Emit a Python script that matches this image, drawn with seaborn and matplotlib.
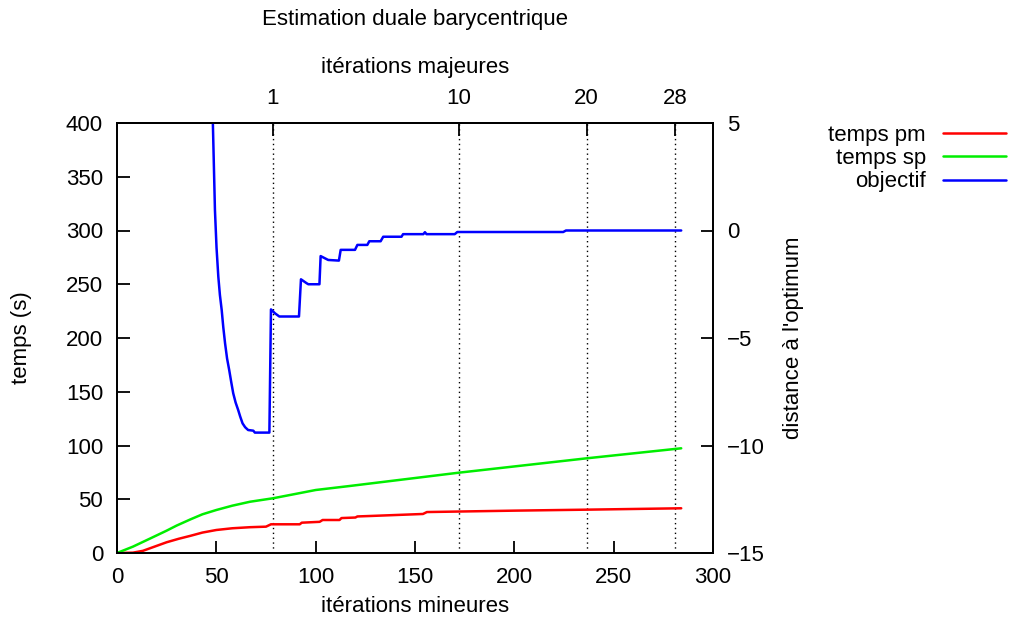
import matplotlib
matplotlib.use("Agg")
import matplotlib.pyplot as plt
import seaborn as sns
import pandas as pd
import numpy as np

# ---- data ----
x_pm = [0, 8, 13, 19, 25, 31, 37, 43, 50, 58, 67, 75, 77.5, 92, 93, 102, 103.5, 112, 113, 120, 121, 127, 154, 156, 200, 236, 284]
temps_pm = [0, 0.3, 2, 6, 10, 13.2, 16, 19, 21.4, 23, 24, 24.5, 26.7, 26.7, 28.2, 29, 30.7, 30.7, 32.5, 33, 34, 34.4, 36.3, 38.1, 39.4, 40.3, 41.6]

x_sp = [0, 8, 16.7, 25, 30, 37, 43, 50, 58, 67, 78.5, 90, 100, 117, 172, 236, 284]
temps_sp = [0, 5.9, 13.5, 20.8, 25.5, 31.3, 36, 40, 44, 47.7, 50.9, 55, 58.6, 62.3, 74.7, 88, 97.4]

x_obj = [48.2, 49.3, 50.1, 51, 51.8, 52.7, 53.5, 54.4, 55.4, 56.5, 57.5, 58.5, 59.7, 61, 62, 63.2, 64.5, 66, 68.6, 69.4, 76.7,
         77.5, 79.5, 81.7, 91.6, 92.6, 95.4, 96.3, 101.9, 102.5, 106.3, 111.7,
         112.6, 119.8, 121, 126, 127, 132.7, 134, 143.2, 144, 154.2, 155, 155.8,
         170, 171.3, 224.6, 226, 284]
objectif = [5.2, 0.95, -0.8, -2.15, -3.0, -3.7, -4.5, -5.25, -5.95, -6.5, -7.05, -7.57, -8.0, -8.35, -8.65, -8.97, -9.15, -9.28, -9.31, -9.4, -9.4,
            -3.67, -3.85, -4.0, -4.0, -2.27, -2.45, -2.5, -2.5, -1.19, -1.37, -1.4,
            -0.9, -0.9, -0.67, -0.67, -0.5, -0.5, -0.29, -0.29, -0.17, -0.17, -0.08, -0.17,
            -0.17, -0.07, -0.07, 0.0, 0.0]

major_pos = [78.5, 172, 236.4, 281]
major_labels = ["1", "10", "20", "28"]

left_ticks = [0, 50, 100, 150, 200, 250, 300, 350, 400]
right_ticks = [-15, -10, -5, 0, 5]
bottom_ticks = [0, 50, 100, 150, 200, 250, 300]

# ---- style ----
sns.set_theme(style="white")
plt.rcParams['font.family'] = ['Liberation Sans', 'DejaVu Sans']
FS = 16
plt.rcParams['font.size'] = FS
plt.rcParams['text.color'] = 'black'
plt.rcParams['axes.labelcolor'] = 'black'

W, H = 1012, 627
fig = plt.figure(figsize=(W / 100, H / 100), dpi=100)
L, R, T, B = 117, 713, 123, 553
ax = fig.add_axes([L / W, 1 - B / H, (R - L) / W, (B - T) / H])
ax2 = ax.twinx()

df_pm = pd.DataFrame({"x": x_pm, "y": temps_pm})
df_sp = pd.DataFrame({"x": x_sp, "y": temps_sp})
df_obj = pd.DataFrame({"x": x_obj, "y": objectif})

for xp in major_pos:
    ax.axvline(xp, color="black", lw=1.0, linestyle=(0, (1, 2.5)), zorder=1)

LW = 1.8
sns.lineplot(data=df_pm, x="x", y="y", ax=ax, color="#ff0000", lw=LW, label="temps pm", legend=False, estimator=None, sort=False)
sns.lineplot(data=df_sp, x="x", y="y", ax=ax, color="#00ee00", lw=LW, label="temps sp", legend=False, estimator=None, sort=False)
sns.lineplot(data=df_obj, x="x", y="y", ax=ax2, color="#0000ff", lw=LW, label="objectif", legend=False, estimator=None, sort=False)

ax.set_xlim(0, 300)
ax.set_ylim(0, 400)
ax2.set_ylim(-15, 5)

ax.set_xticks(bottom_ticks)
ax.set_yticks(left_ticks)
ax2.set_yticks(right_ticks)

for a in (ax, ax2):
    for s in a.spines.values():
        s.set_color("black")
        s.set_linewidth(1.3)

ax.tick_params(axis="x", which="both", direction="in", length=9, width=1.3, bottom=True, top=False,
               labelsize=FS, pad=10, colors="black")
ax.tick_params(axis="y", which="both", direction="in", length=9, width=1.3, left=True, right=False,
               labelsize=FS, pad=10, colors="black")
ax2.tick_params(axis="y", direction="in", length=9, width=1.3, right=True, left=False,
                labelsize=FS, pad=10, colors="black")

secax = ax.secondary_xaxis("top")
secax.set_xticks(major_pos)
secax.set_xticklabels(major_labels)
secax.tick_params(direction="in", length=9, width=1.3, labelsize=FS, pad=10, colors="black")
secax.spines["top"].set_linewidth(1.3)

ax.set_xlabel("itérations mineures", fontsize=FS, color="black")
ax.xaxis.set_label_coords(0.5 * (L + R) / W, 1 - 607 / H, transform=fig.transFigure)
ax.xaxis.label.set_va("center")
ax.set_ylabel("temps (s)", fontsize=FS, color="black")
ax.yaxis.set_label_coords(22 / W, 1 - 338 / H, transform=fig.transFigure)
ax.yaxis.label.set_va("center")
ax2.set_ylabel("distance à l'optimum", fontsize=FS, color="black")
ax2.yaxis.set_label_coords(794 / W, 1 - 338 / H, transform=fig.transFigure)
ax2.yaxis.label.set_va("center")
ax2.yaxis.label.set_rotation(90)

secax.set_xlabel("itérations majeures", fontsize=FS, color="black")
secax.xaxis.set_label_coords(0.5 * (L + R) / W, 1 - 67 / H, transform=fig.transFigure)
secax.xaxis.label.set_va("center")

fig.text(0.5 * (L + R) / W, 1 - 20 / H, "Estimation duale barycentrique", ha="center", va="center",
         fontsize=FS, color="black")

h1, l1 = ax.get_legend_handles_labels()
h2, l2 = ax2.get_legend_handles_labels()
leg = fig.legend(h1 + h2, l1 + l2, loc="upper right", bbox_to_anchor=(1006 / W, 1 - 125 / H),
                 bbox_transform=fig.transFigure, frameon=False, markerfirst=False,
                 handlelength=2.85, handletextpad=0.75, labelspacing=0.1, borderpad=0, borderaxespad=0,
                 fontsize=FS)
for t in leg.get_texts():
    t.set_color("black")

fig.savefig("out.png", dpi=100)
